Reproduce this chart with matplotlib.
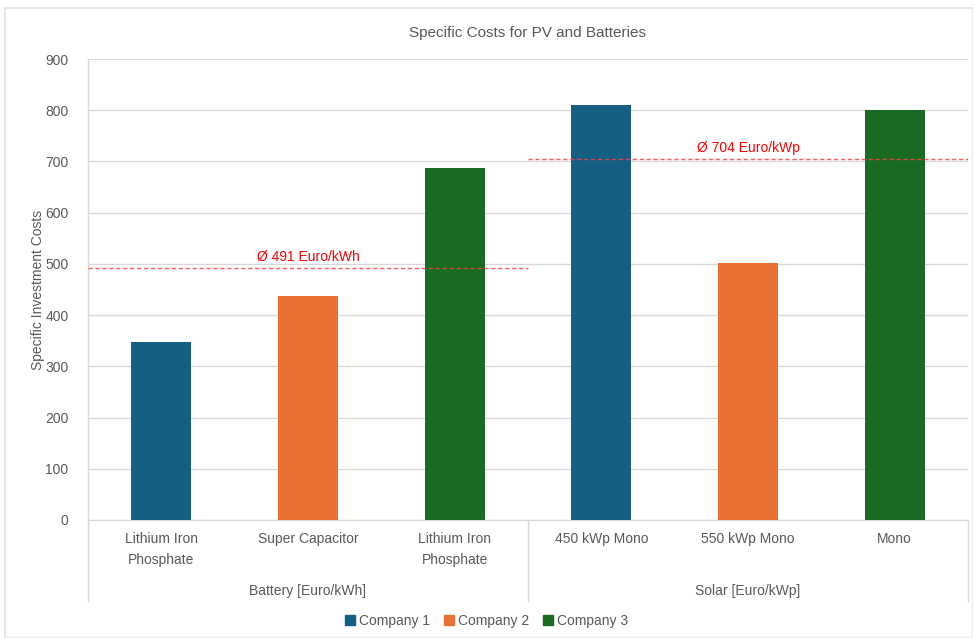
import matplotlib.pyplot as plt
import matplotlib.transforms as mtransforms
from matplotlib.patches import Patch

plt.rcParams['font.family'] = ['Liberation Sans', 'DejaVu Sans']

# Daten
categories = ['Lithium Iron\nPhosphate', 'Super Capacitor', 'Lithium Iron\nPhosphate',
              '450 kWp Mono', '550 kWp Mono', 'Mono']
costs = [347, 438, 688, 810, 502, 800]
companies = ['Company 1', 'Company 2', 'Company 3', 'Company 1', 'Company 2', 'Company 3']
groups = ['Battery [Euro/kWh]', 'Solar [Euro/kWp]']
group_avgs = [491, 704]
avg_labels = ['Ø 491 Euro/kWh', 'Ø 704 Euro/kWp']

colors = {'Company 1': '#156082', 'Company 2': '#E97132', 'Company 3': '#196B24'}
grid_col = '#d9d9d9'
text_col = '#595959'

fig = plt.figure(figsize=(9.73, 6.38), dpi=100)
ax = fig.add_axes([0.0904, 0.185, 0.9045, 0.7225])

x = list(range(len(categories)))
ax.bar(x, costs, width=0.41, color=[colors[c] for c in companies], zorder=3)

ax.set_xlim(-0.5, len(categories) - 0.5)
ax.set_ylim(0, 900)
ax.set_yticks(range(0, 1000, 100))
ax.yaxis.grid(True, color=grid_col, linewidth=1, zorder=0)
for s in ['top', 'right', 'left']:
    ax.spines[s].set_visible(False)
ax.spines['bottom'].set_color(grid_col)
ax.tick_params(axis='y', length=0, labelsize=10, labelcolor=text_col, pad=14)
ax.tick_params(axis='x', length=0, labelsize=10, labelcolor=text_col, pad=9)
ax.set_xticks(x)
ax.set_xticklabels(categories, linespacing=1.6, va='top')
ax.set_ylabel('Specific Investment Costs', fontsize=10, color=text_col, labelpad=0)
ax.set_title('Specific Costs for PV and Batteries', fontsize=11, color=text_col, pad=16)

# Durchschnittslinien je Gruppe
for g, (avg, lab) in enumerate(zip(group_avgs, avg_labels)):
    x0, x1 = g * 3 - 0.5, g * 3 + 2.5
    ax.plot([x0, x1], [avg, avg], color='#ff4040', linestyle=(0, (3, 2)),
            linewidth=1, zorder=4, alpha=0.85)
    ax.text((x0 + x1) / 2, avg + 8, lab, color='#ff0000', fontsize=10,
            ha='center', va='bottom', zorder=5)

# Gruppentrenner und Gruppenbeschriftung unter der Achse
trans = mtransforms.blended_transform_factory(ax.transData, ax.transAxes)
for xs in [-0.5, 2.5, 5.5]:
    ax.plot([xs, xs], [0, -0.175], color=grid_col, linewidth=1,
            transform=trans, clip_on=False)
ax.plot([-0.5, -0.5], [0, 1], color=grid_col, linewidth=1, transform=trans, clip_on=False)
for g, lab in enumerate(groups):
    ax.text(g * 3 + 1, -0.154, lab, transform=trans, ha='center', va='center',
            fontsize=10, color=text_col)

handles = [Patch(color=colors[c]) for c in ['Company 1', 'Company 2', 'Company 3']]
fig.legend(handles, ['Company 1', 'Company 2', 'Company 3'], loc='center',
           bbox_to_anchor=(0.5, 0.027), ncol=3, frameon=False, fontsize=10,
           handlelength=0.7, handleheight=0.7, handletextpad=0.3, columnspacing=1.0,
           labelcolor=text_col)

# Rahmen um das Diagramm
fig.patches.append(plt.Rectangle((0.005, 0.0), 0.995, 0.988, transform=fig.transFigure,
                                 fill=False, edgecolor='#e6e6e6', linewidth=1.5))

fig.savefig('out.png', dpi=100)
